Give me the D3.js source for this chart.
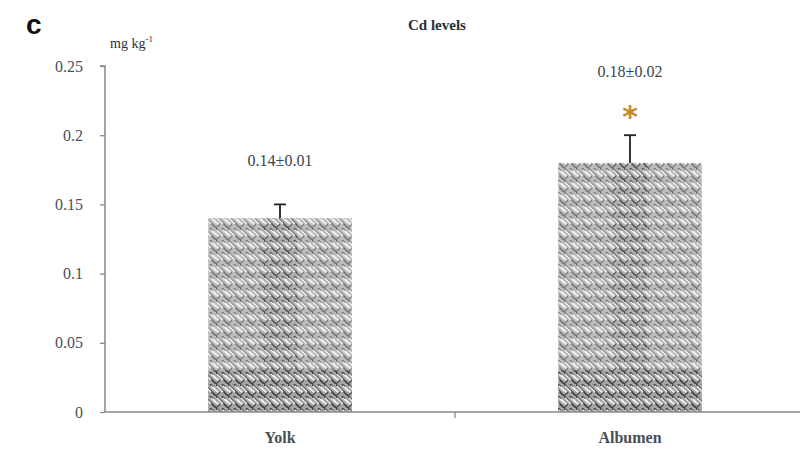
<!DOCTYPE html>
<html>
<head>
<meta charset="utf-8">
<script src="https://cdn.jsdelivr.net/npm/d3@7"></script>
<style>
  body { margin: 0; background: #fff; }
  text { font-family: "Liberation Serif", "DejaVu Serif", serif; }
</style>
</head>
<body>
<div id="chart"></div>
<script>
// Cd levels in yolk and albumen

var categories = ["Yolk", "Albumen"];
var means = [0.14, 0.18];
var errors = [0.01, 0.02];
var valueLabels = ["0.14\u00b10.01", "0.18\u00b10.02"];
var signif = ["", "*"];
var yTicks = [0, 0.05, 0.1, 0.15, 0.2, 0.25];
var yTickLabels = ["0", "0.05", "0.1", "0.15", "0.2", "0.25"];

var width = 800, height = 456;
var margin = {top: 66, right: 0, bottom: 44, left: 105};

var svg = d3.select("#chart")
    .append("svg")
    .attr("width", width)
    .attr("height", height);

// weave-ish pattern for the bars
var defs = svg.append("defs");
function weave(id, bg, dark) {
    var p = defs.append("pattern")
        .attr("id", id)
        .attr("patternUnits", "userSpaceOnUse")
        .attr("width", 12)
        .attr("height", 12);
    p.append("rect").attr("width", 12).attr("height", 12).attr("fill", bg);
    // "\" strokes
    [[0, 0, 6, 6], [6, 6, 12, 12], [6, 0, 12, 6], [0, 6, 3, 9], [9, 3, 12, 6]].forEach(function(s, i) {
        p.append("line")
            .attr("x1", s[0]).attr("y1", s[1]).attr("x2", s[2]).attr("y2", s[3])
            .attr("stroke", i < 3 ? dark : "#f2f2f2")
            .attr("stroke-width", 1.6);
    });
    [[1, 2, 7, 8], [7, 2, 12, 7]].forEach(function(s) {
        p.append("line")
            .attr("x1", s[0]).attr("y1", s[1]).attr("x2", s[2]).attr("y2", s[3])
            .attr("stroke", "#f4f4f4")
            .attr("stroke-width", 1.3);
    });
    [[0, 12, 4, 8]].forEach(function(s) {
        p.append("line")
            .attr("x1", s[0]).attr("y1", s[1]).attr("x2", s[2]).attr("y2", s[3])
            .attr("stroke", dark)
            .attr("stroke-width", 1.2);
    });
}
weave("weave", "#bcbcbc", "#767676");
weave("weaveDark", "#a4a4a4", "#3f3f3f");

var x = d3.scaleBand()
    .domain(categories)
    .range([margin.left, width + 5])
    .padding(0);

var y = d3.scaleLinear()
    .domain([0, 0.25])
    .range([height - margin.bottom, margin.top]);

var barW = x.bandwidth() * 0.41;
var data = categories.map(function(c, i) {
    return {cat: c, mean: means[i], err: errors[i], label: valueLabels[i], sig: signif[i]};
});

// bars
var bars = svg.selectAll(".bar")
    .data(data)
    .enter()
    .append("g")
    .attr("class", "bar");

bars.append("rect")
    .attr("x", function(d) { return x(d.cat) + x.bandwidth() / 2 - barW / 2; })
    .attr("y", function(d) { return y(d.mean); })
    .attr("width", barW)
    .attr("height", function(d) { return y(0) - y(d.mean); })
    .attr("fill", "url(#weave)");

// darker bottom strip and centre column, like the scanned texture
bars.append("rect")
    .attr("x", function(d) { return x(d.cat) + x.bandwidth() / 2 - barW / 2; })
    .attr("y", y(0.03))
    .attr("width", barW)
    .attr("height", y(0) - y(0.03))
    .attr("fill", "url(#weaveDark)");

bars.append("rect")
    .attr("x", function(d) { return x(d.cat) + x.bandwidth() / 2 - barW * 0.12; })
    .attr("y", function(d) { return y(d.mean); })
    .attr("width", barW * 0.24)
    .attr("height", function(d) { return y(0) - y(d.mean); })
    .attr("fill", "url(#weaveDark)")
    .attr("opacity", 0.6);

// error bars (upper only)
bars.append("line")
    .attr("x1", function(d) { return x(d.cat) + x.bandwidth() / 2; })
    .attr("x2", function(d) { return x(d.cat) + x.bandwidth() / 2; })
    .attr("y1", function(d) { return y(d.mean); })
    .attr("y2", function(d) { return y(d.mean + d.err); })
    .attr("stroke", "#222")
    .attr("stroke-width", 1.8);

bars.append("line")
    .attr("x1", function(d) { return x(d.cat) + x.bandwidth() / 2 - 6; })
    .attr("x2", function(d) { return x(d.cat) + x.bandwidth() / 2 + 6; })
    .attr("y1", function(d) { return y(d.mean + d.err); })
    .attr("y2", function(d) { return y(d.mean + d.err); })
    .attr("stroke", "#222")
    .attr("stroke-width", 1.8);

// significance star
bars.append("text")
    .attr("x", function(d) { return x(d.cat) + x.bandwidth() / 2; })
    .attr("y", function(d) { return y(d.mean + d.err) - 8; })
    .attr("text-anchor", "middle")
    .attr("font-family", "DejaVu Sans, sans-serif")
    .style("font-family", "DejaVu Sans, sans-serif")
    .attr("font-size", 30)
    .attr("font-weight", "bold")
    .attr("fill", "#c28a2e")
    .text(function(d) { return d.sig; });

// mean ± sd labels
bars.append("text")
    .attr("x", function(d) { return x(d.cat) + x.bandwidth() / 2; })
    .attr("y", function(d) { return y(d.mean + d.err) - (d.sig ? 58 : 38); })
    .attr("text-anchor", "middle")
    .attr("font-size", 16)
    .attr("fill", "#3a4350")
    .text(function(d) { return d.label; });

// y axis
var yAxis = d3.axisLeft(y)
    .tickValues(yTicks)
    .tickFormat(function(d, i) { return yTickLabels[i]; })
    .tickSize(5)
    .tickPadding(17);

var gy = svg.append("g")
    .attr("transform", "translate(" + margin.left + ",0)")
    .call(yAxis);
gy.select(".domain").attr("stroke", "#888").attr("stroke-width", 1.5).attr("d", "M-5," + y(0.25) + "H0V" + y(0));
gy.selectAll(".tick line").attr("stroke", "#888").attr("stroke-width", 1.3);
gy.selectAll(".tick text")
    .attr("font-family", "Liberation Serif, serif")
    .attr("font-size", 16)
    .attr("fill", "#4a4f55");

// x axis
var xAxis = d3.axisBottom(x).tickSize(0).tickPadding(20);
var gx = svg.append("g")
    .attr("transform", "translate(0," + y(0) + ")")
    .call(xAxis);
gx.select(".domain").attr("stroke", "#888").attr("stroke-width", 1.5).attr("d", "M" + margin.left + ",0H" + width);
gx.selectAll(".tick text")
    .attr("font-family", "Liberation Serif, serif")
    .attr("font-size", 16)
    .attr("font-weight", "bold")
    .attr("fill", "#4a4f55");
// boundary tick between the categories
gx.append("line")
    .attr("x1", x(categories[1])).attr("x2", x(categories[1]))
    .attr("y1", 0).attr("y2", 6)
    .attr("stroke", "#888").attr("stroke-width", 1.3);

// title, panel letter and unit
svg.append("text")
    .attr("x", 437)
    .attr("y", 30)
    .attr("text-anchor", "middle")
    .attr("font-size", 15)
    .attr("font-weight", "bold")
    .attr("fill", "#2a2f36")
    .text("Cd levels");

svg.append("text")
    .attr("x", 26)
    .attr("y", 34)
    .attr("font-family", "Liberation Sans, Arial, sans-serif")
    .style("font-family", "Liberation Sans, Arial, sans-serif")
    .attr("font-size", 28)
    .attr("font-weight", "bold")
    .attr("fill", "#111")
    .text("c");

var unit = svg.append("text")
    .attr("x", 110)
    .attr("y", 48)
    .attr("font-size", 14)
    .attr("fill", "#2f3338");
unit.append("tspan").text("mg kg");
unit.append("tspan").attr("dy", -6).attr("font-size", 9).text("-1");
</script>
</body>
</html>
